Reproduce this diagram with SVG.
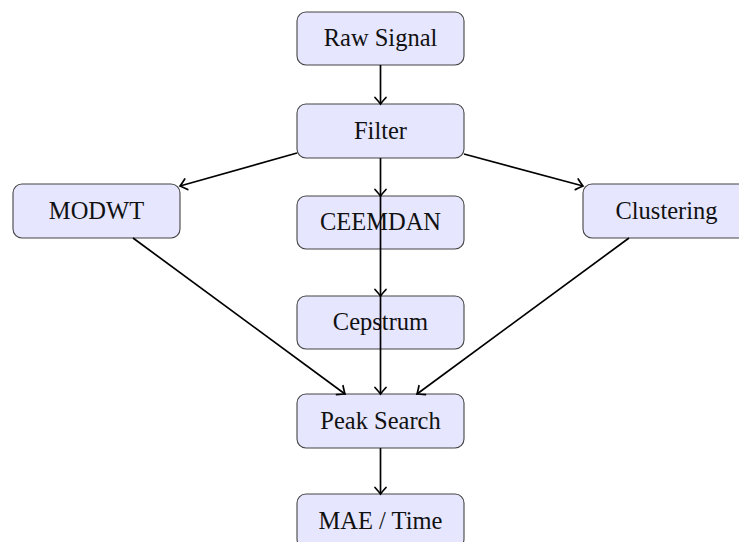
<svg xmlns="http://www.w3.org/2000/svg" width="739" height="542" viewBox="0 0 739 542">
<style>
.node rect{fill:#e6e6ff;stroke:#444;stroke-width:1.1}
.node text{font-family:"Liberation Serif","DejaVu Serif",serif;font-size:24.5px;fill:#111;text-anchor:middle}
.conn line{stroke:#000;stroke-width:1.7;fill:none;marker-end:url(#arr)}
</style>
<defs>
<marker id="arr" markerUnits="userSpaceOnUse" viewBox="-10 -10 20 20" markerWidth="20" markerHeight="20" refX="0" refY="0" orient="auto" overflow="visible">
<path d="M-6.5,-5.5 Q-1.5,-1 0,0 Q-1.5,1 -6.5,5.5" fill="none" stroke="#000" stroke-width="1.7" stroke-linecap="round"/>
</marker>
</defs>
<rect width="739" height="542" fill="#fff"/>
<g id="raw" class="node"><rect x="297" y="12" width="167" height="53" rx="9"/><text x="380.5" y="46">Raw Signal</text></g>
<g id="filter" class="node"><rect x="297" y="104" width="167" height="54" rx="9"/><text x="380.5" y="139">Filter</text></g>
<g id="modwt" class="node"><rect x="13" y="184" width="167" height="54" rx="9"/><text x="96.5" y="219">MODWT</text></g>
<g id="ceemdan" class="node"><rect x="297" y="196" width="167" height="53" rx="9"/><text x="380.5" y="230">CEEMDAN</text></g>
<g id="cepstrum" class="node"><rect x="297" y="296" width="167" height="53" rx="9"/><text x="380.5" y="330">Cepstrum</text></g>
<g id="clustering" class="node"><rect x="583" y="184" width="167" height="54" rx="9"/><text x="666.5" y="219">Clustering</text></g>
<g id="peak" class="node"><rect x="297" y="394" width="167" height="54" rx="9"/><text x="380.5" y="429">Peak Search</text></g>
<g id="mae" class="node"><rect x="297" y="494" width="167" height="54" rx="9"/><text x="380.5" y="529">MAE / Time</text></g>
<g id="connectors" class="conn">
<line x1="380.5" y1="65" x2="380.5" y2="104"/>
<line x1="297" y1="153" x2="180" y2="186"/>
<line x1="464" y1="154" x2="583" y2="186"/>
<line x1="380.5" y1="158" x2="380.5" y2="196"/>
<line x1="380.5" y1="196" x2="380.5" y2="296"/>
<line x1="380.5" y1="296" x2="380.5" y2="394"/>
<line x1="133" y1="238" x2="345" y2="394"/>
<line x1="629" y1="238" x2="417" y2="394"/>
<line x1="380.5" y1="448" x2="380.5" y2="494"/>
</g>
</svg>
